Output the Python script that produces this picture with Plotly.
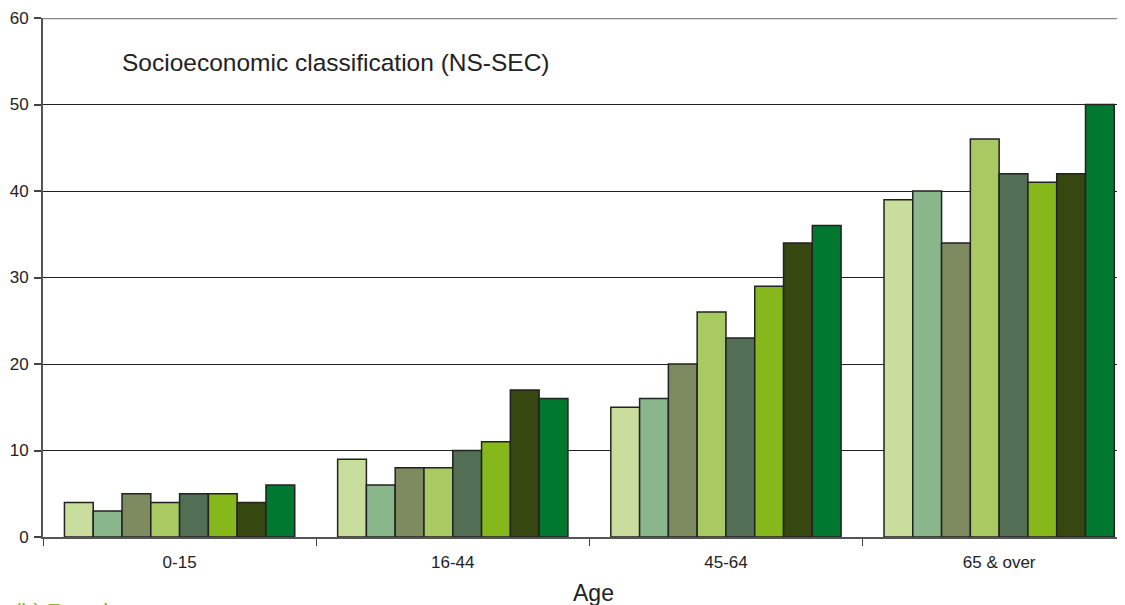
import plotly.graph_objects as go

categories = ["0-15", "16-44", "45-64", "65 & over"]
series_names = ["Class 1", "Class 2", "Class 3", "Class 4", "Class 5", "Class 6", "Class 7", "Class 8"]
values = [
    [4, 9, 15, 39],
    [3, 6, 16, 40],
    [5, 8, 20, 34],
    [4, 8, 26, 46],
    [5, 10, 23, 42],
    [5, 11, 29, 41],
    [4, 17, 34, 42],
    [6, 16, 36, 50],
]
colors = ["#C9DD9C", "#89B78B", "#7E8A60", "#A9C962", "#526F56", "#86B71B", "#36470F", "#00782F"]
y_ticks = [0, 10, 20, 30, 40, 50, 60]

FONT = "Liberation Sans, Arial, Helvetica, sans-serif"

fig = go.Figure()
for name, vals, col in zip(series_names, values, colors):
    fig.add_trace(go.Bar(
        x=categories, y=vals, name=name,
        marker=dict(color=col, line=dict(color="#222222", width=1.5)),
    ))

fig.update_layout(
    width=1125, height=605,
    margin=dict(l=35, r=0, t=10, b=76, autoexpand=False),
    paper_bgcolor="white", plot_bgcolor="white",
    barmode="group", bargap=0.157, bargroupgap=0,
    showlegend=False,
    font=dict(family=FONT, color="#222222"),
)
fig.update_xaxes(
    type="category", range=[-0.5, 3.49], automargin=False,
    tickson="boundaries", ticks="outside", ticklen=7, tickcolor="#444444", tickwidth=1,
    ticklabelstandoff=9,
    showline=True, linecolor="#555555", linewidth=2,
    showgrid=False, zeroline=False,
    tickfont=dict(size=17, family=FONT, color="#222222"),
)
fig.update_yaxes(
    range=[0, 60], tickvals=y_ticks, automargin=False,
    ticks="outside", ticklen=7, tickcolor="#444444", tickwidth=1.5,
    ticklabelstandoff=2,
    showline=True, linecolor="#555555", linewidth=2,
    showgrid=True, gridcolor="#222222", gridwidth=1.2,
    zeroline=False,
    tickfont=dict(size=17, family=FONT, color="#222222"),
)
# top border line at 60
fig.add_shape(type="line", xref="paper", yref="y", x0=0, x1=1, y0=60, y1=60,
              line=dict(color="#888888", width=2.5))

fig.add_annotation(text="Socioeconomic classification (NS-SEC)", xref="paper", yref="paper",
                   x=0.0706, y=0.915, xanchor="left", yanchor="middle", showarrow=False,
                   font=dict(size=24.5, family=FONT, color="#222222"))
fig.add_annotation(text="Age", xref="paper", yref="paper",
                   x=0.5046, y=-0.108, xanchor="center", yanchor="middle", showarrow=False,
                   font=dict(size=23, family=FONT, color="#222222"))
fig.add_annotation(text="(b) Females", xref="paper", yref="paper",
                   x=-0.0284, y=-0.1156, xanchor="left", yanchor="top", showarrow=False,
                   font=dict(size=22, family=FONT, color="#86B71B"))

fig.write_html("out.html")
